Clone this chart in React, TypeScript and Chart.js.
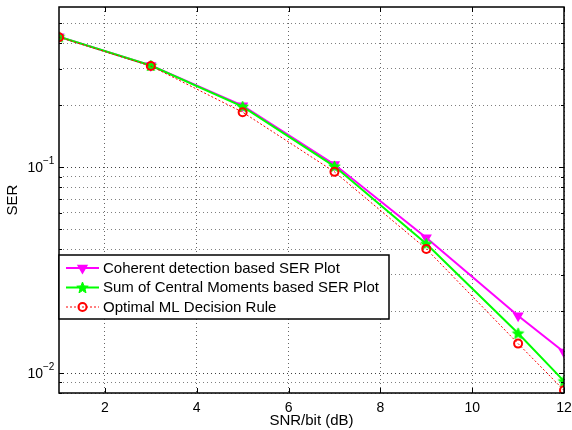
import React, { useEffect, useRef } from "react";
import { Chart, registerables } from "chart.js";

Chart.register(...registerables);

const snrDb = [1, 3, 5, 7, 9, 11, 12];
const coherentSER = [0.43, 0.312, 0.199, 0.103, 0.0454, 0.019, 0.01265];
const centralMomentsSER = [0.43, 0.312, 0.197, 0.101, 0.0425, 0.0156, 0.00914];
const optimalMLSER = [0.428, 0.31, 0.185, 0.0949, 0.0401, 0.0139, 0.00824];

const seriesLabels = [
  "Coherent detection based SER Plot",
  "Sum of Central Moments based SER Plot",
  "Optimal ML Decision Rule",
];

const xTicks = [2, 4, 6, 8, 10, 12];
const yMajorTicks = [0.1, 0.01];
const yMajorExponents = ["−1", "−2"];
const yMinorTicks = [
  0.008, 0.009, 0.02, 0.03, 0.04, 0.05, 0.06, 0.07, 0.08, 0.09, 0.2, 0.3, 0.4, 0.5,
];
const yMin = 0.008;
const yMax = 0.6;
const xMin = 1;
const xMax = 12;

const FONT = "'Liberation Sans', Arial, Helvetica, sans-serif";
const MAGENTA = "#ff00ff";
const GREEN = "#00ff00";
const RED = "#ff0000";

function makeStar(color: string, outer: number, inner: number): HTMLCanvasElement {
  const size = Math.ceil(outer * 2 + 3);
  const c = document.createElement("canvas");
  c.width = size;
  c.height = size;
  const ctx = c.getContext("2d")!;
  const cx = size / 2;
  const cy = size / 2 + 0.5;
  ctx.beginPath();
  for (let i = 0; i < 10; i++) {
    const r = i % 2 === 0 ? outer : inner;
    const a = -Math.PI / 2 + (i * Math.PI) / 5;
    const px = cx + r * Math.cos(a);
    const py = cy + r * Math.sin(a);
    if (i === 0) ctx.moveTo(px, py);
    else ctx.lineTo(px, py);
  }
  ctx.closePath();
  ctx.fillStyle = color;
  ctx.fill();
  ctx.strokeStyle = color;
  ctx.lineWidth = 1;
  ctx.stroke();
  return c;
}

const decorPlugin = {
  id: "matlabDecor",
  afterDraw(chart: any) {
    const { ctx, chartArea } = chart;
    const xs = chart.scales.x;
    const ys = chart.scales.y;
    const { left, right, top, bottom } = chartArea;
    ctx.save();
    // inward ticks
    ctx.strokeStyle = "#000";
    ctx.lineWidth = 1;
    ctx.beginPath();
    xTicks.forEach((v) => {
      const px = Math.round(xs.getPixelForValue(v)) + 0.5;
      ctx.moveTo(px, bottom);
      ctx.lineTo(px, bottom - 5);
      ctx.moveTo(px, top);
      ctx.lineTo(px, top + 5);
    });
    yMajorTicks.forEach((v) => {
      const py = Math.round(ys.getPixelForValue(v)) + 0.5;
      ctx.moveTo(left, py);
      ctx.lineTo(left + 5, py);
      ctx.moveTo(right, py);
      ctx.lineTo(right - 5, py);
    });
    yMinorTicks.forEach((v) => {
      const py = Math.round(ys.getPixelForValue(v)) + 0.5;
      ctx.moveTo(left, py);
      ctx.lineTo(left + 3, py);
      ctx.moveTo(right, py);
      ctx.lineTo(right - 3, py);
    });
    ctx.stroke();
    // box
    ctx.lineWidth = 1.5;
    ctx.strokeRect(left, top, right - left, bottom - top);

    // y tick labels 10^n
    ctx.fillStyle = "#000";
    yMajorTicks.forEach((v, i) => {
      const py = ys.getPixelForValue(v);
      ctx.font = `14px ${FONT}`;
      ctx.textAlign = "right";
      ctx.textBaseline = "middle";
      ctx.fillText("10", 43, py + 1);
      ctx.font = `10px ${FONT}`;
      ctx.textAlign = "left";
      ctx.fillText(yMajorExponents[i], 43, py - 6);
    });

    // legend
    const ds = chart.data.datasets;
    const bx = left;
    const by = 255;
    const bw = 330;
    const bh = 64;
    ctx.fillStyle = "#fff";
    ctx.fillRect(bx, by, bw, bh);
    ctx.lineWidth = 1.5;
    ctx.strokeStyle = "#000";
    ctx.strokeRect(bx, by, bw, bh);
    const rowY = [268, 287.5, 307];
    const lx1 = bx + 7;
    const lx2 = bx + 40;
    const mx = (lx1 + lx2) / 2;
    ds.forEach((d: any, i: number) => {
      const y = rowY[i];
      ctx.save();
      ctx.strokeStyle = d.borderColor;
      ctx.lineWidth = d.borderWidth;
      ctx.setLineDash(d.borderDash || []);
      ctx.beginPath();
      ctx.moveTo(lx1, y);
      ctx.lineTo(lx2, y);
      ctx.stroke();
      ctx.restore();
      // marker
      ctx.save();
      if (d.pointStyle === "triangle") {
        const r = d.pointRadius;
        ctx.fillStyle = d.pointBackgroundColor;
        ctx.strokeStyle = d.pointBorderColor;
        ctx.lineWidth = d.pointBorderWidth;
        ctx.beginPath();
        for (let k = 0; k < 3; k++) {
          const a = Math.PI + (k * 2 * Math.PI) / 3;
          const px = mx + Math.sin(a) * r;
          const py = y - Math.cos(a) * r;
          if (k === 0) ctx.moveTo(px, py);
          else ctx.lineTo(px, py);
        }
        ctx.closePath();
        ctx.fill();
        ctx.stroke();
      } else if (d.pointStyle instanceof HTMLCanvasElement) {
        const img = d.pointStyle as HTMLCanvasElement;
        ctx.drawImage(img, mx - img.width / 2, y - img.height / 2);
      } else {
        ctx.strokeStyle = d.pointBorderColor;
        ctx.lineWidth = d.pointBorderWidth;
        ctx.beginPath();
        ctx.arc(mx, y, d.pointRadius, 0, Math.PI * 2);
        ctx.stroke();
      }
      ctx.restore();
      ctx.fillStyle = "#000";
      ctx.font = `15px ${FONT}`;
      ctx.textAlign = "left";
      ctx.textBaseline = "middle";
      ctx.fillText(d.label, lx2 + 4, y + 0.5);
    });
    ctx.restore();
  },
};

export default function App() {
  const canvasRef = useRef<HTMLCanvasElement | null>(null);

  useEffect(() => {
    if (!canvasRef.current) return;
    const star = makeStar(GREEN, 6, 2.6);
    const toPts = (vals: number[]) => snrDb.map((x, i) => ({ x, y: vals[i] }));
    const chart = new Chart(canvasRef.current, {
      type: "line",
      data: {
        datasets: [
          {
            label: seriesLabels[0],
            data: toPts(coherentSER),
            borderColor: MAGENTA,
            backgroundColor: MAGENTA,
            borderWidth: 2,
            pointStyle: "triangle",
            rotation: 180,
            pointRadius: 5,
            pointBackgroundColor: MAGENTA,
            pointBorderColor: MAGENTA,
            pointBorderWidth: 1.5,
            tension: 0,
            order: 3,
          },
          {
            label: seriesLabels[1],
            data: toPts(centralMomentsSER),
            borderColor: GREEN,
            backgroundColor: GREEN,
            borderWidth: 2,
            pointStyle: star as any,
            pointRadius: 6,
            pointBackgroundColor: GREEN,
            pointBorderColor: GREEN,
            pointBorderWidth: 1,
            tension: 0,
            order: 2,
          },
          {
            label: seriesLabels[2],
            data: toPts(optimalMLSER),
            borderColor: RED,
            backgroundColor: "rgba(0,0,0,0)",
            borderWidth: 1,
            borderDash: [2, 2],
            pointStyle: "circle",
            pointRadius: 4,
            pointBackgroundColor: "rgba(0,0,0,0)",
            pointBorderColor: RED,
            pointBorderWidth: 2,
            tension: 0,
            order: 1,
          },
        ] as any,
      },
      options: {
        responsive: false,
        animation: false,
        events: [],
        layout: { padding: { left: 0, right: 8, top: 7, bottom: 0 } },
        plugins: {
          legend: { display: false },
          tooltip: { enabled: false },
        },
        scales: {
          x: {
            type: "linear",
            min: xMin,
            max: xMax,
            afterBuildTicks: (scale: any) => {
              scale.ticks = xTicks.map((v) => ({ value: v }));
            },
            afterFit: (scale: any) => {
              scale.height = 37;
              scale.paddingLeft = 0;
              scale.paddingRight = 0;
            },
            grid: {
              color: "rgba(0,0,0,0.6)",
              lineWidth: 1,
              drawTicks: false,
            },
            border: { display: false, dash: [1, 3] },
            ticks: {
              color: "#000",
              font: { family: FONT, size: 14 },
              padding: 7,
              maxRotation: 0,
              autoSkip: false,
            },
            title: {
              display: true,
              text: "SNR/bit (dB)",
              color: "#000",
              font: { family: FONT, size: 15 },
              padding: { top: 0, bottom: 0 },
            },
          },
          y: {
            type: "logarithmic",
            min: yMin,
            max: yMax,
            afterBuildTicks: (scale: any) => {
              scale.ticks = [...yMinorTicks, ...yMajorTicks]
                .sort((a, b) => a - b)
                .map((v) => ({ value: v, major: yMajorTicks.includes(v) }));
            },
            afterFit: (scale: any) => {
              scale.width = 59;
              scale.paddingTop = 0;
              scale.paddingBottom = 0;
            },
            grid: {
              color: (c: any) =>
                c.tick && yMajorTicks.includes(c.tick.value)
                  ? "rgba(0,0,0,0.75)"
                  : "rgba(0,0,0,0.5)",
              lineWidth: 1,
              drawTicks: false,
            },
            border: { display: false, dash: [1, 3] },
            ticks: { display: false },
            title: {
              display: true,
              text: "SER",
              color: "#000",
              font: { family: FONT, size: 15 },
              padding: { top: 4, bottom: 0 },
            },
          },
        },
      },
      plugins: [decorPlugin],
    });
    return () => chart.destroy();
  }, []);

  return (
    <div style={{ position: "fixed", left: 0, top: 0, width: 572, height: 430, background: "#fff" }}>
      <canvas ref={canvasRef} width={572} height={430} style={{ display: "block" }} />
    </div>
  );
}
